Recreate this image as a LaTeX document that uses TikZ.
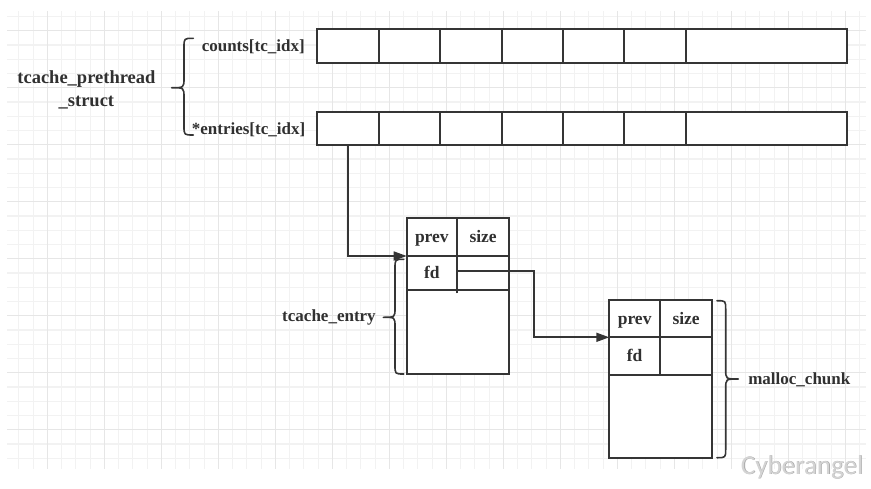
\documentclass[tikz,border=0pt]{standalone}
\usepackage{fontspec}
\setmainfont{Liberation Serif}
\newfontfamily\markfont{Carlito}
\usetikzlibrary{arrows.meta,calc}

\definecolor{ink}{HTML}{353535}
\definecolor{txt}{HTML}{303030}
\definecolor{gridminor}{HTML}{F2F2F2}
\definecolor{gridmajor}{HTML}{E6E6E6}
\definecolor{markfill}{HTML}{D4D4D4}
\definecolor{markedge}{HTML}{A0A0A0}

\begin{document}
\begin{tikzpicture}[x=1pt,y=-1pt,
  cell/.style={draw=ink,fill=white,line width=2pt,inner sep=0pt,outer sep=0pt,
    font=\fontsize{17.5}{20}\selectfont\bfseries,text=txt,
    text height=11.5pt,text depth=0pt},
  lbl/.style={inner sep=0pt,outer sep=0pt,text=txt,
    font=\fontsize{17}{20}\selectfont\bfseries,text height=11.2pt,text depth=0pt},
  conn/.style={draw=ink,line width=1.7pt,-{Triangle[length=13pt,width=9pt]}},
  curly/.style={draw=ink,line width=1.6pt,line cap=round,line join=round},
  minorline/.style={draw=gridminor,line width=1.1pt},
  majorline/.style={draw=gridmajor,line width=1.4pt}]

\useasboundingbox[fill=white] (0,0) rectangle (871,488);

% background grid
\foreach \k in {-2,...,57}{\draw[minorline] ({47.3+14.25*\k},11) -- ({47.3+14.25*\k},469);}
\foreach \k in {-1,...,30}{\draw[minorline] (7,{30.7+14.25*\k}) -- (866,{30.7+14.25*\k});}
\foreach \k in {0,4,...,56}{\draw[majorline] ({47.3+14.25*\k},11) -- ({47.3+14.25*\k},469);}
\foreach \k in {0,4,...,28}{\draw[majorline] (7,{30.7+14.25*\k}) -- (866,{30.7+14.25*\k});}

% counts[] and entries[] arrays
\foreach \i/\a/\b in {1/316.7/379,2/379/440.3,3/440.3/501.5,4/501.5/562.8,
                      5/562.8/624.2,6/624.2/685.7,7/685.7/846.7}{
  \node[cell,minimum width={\b-\a},minimum height=33.4] (c\i) at ({(\a+\b)/2},46) {};
  \node[cell,minimum width={\b-\a},minimum height=33.6] (n\i) at ({(\a+\b)/2},128.5) {};
}

\node[lbl,anchor=east] (cntlbl) at ([xshift=-12pt]c1.west) {counts[tc\_idx]};
\node[lbl,anchor=east] (entlbl) at ([xshift=-11.5pt]n1.west) {*entries[tc\_idx]};
\node[inner sep=0pt,text=txt,font=\fontsize{18.5}{22.7}\selectfont\bfseries,
      align=center,anchor=base] (tps) at (86.4,106) {tcache\_prethread\\\_struct};

% tcache_entry
\node[cell,minimum width=50.3,minimum height=37.7] (eprev) at (431.85,237.15) {prev};
\node[cell,minimum width=52.3,minimum height=37.7] (esize) at (483.15,237.15) {size};
\node[cell,minimum width=50.3,minimum height=34.3] (efd)   at (431.85,273.15) {fd};
\node[cell,minimum width=52.3,minimum height=34.3] (efdr)  at (483.15,273.15) {};
\node[cell,minimum width=102.6,minimum height=83.7] (ebody) at (458,332.15) {};

% malloc_chunk
\node[cell,minimum width=50.7,minimum height=37.3] (mprev) at (634.65,318.65) {prev};
\node[cell,minimum width=52.3,minimum height=37.3] (msize) at (686.15,318.65) {size};
\node[cell,minimum width=50.7,minimum height=37.7] (mfd)   at (634.65,356.15) {fd};
\node[cell,minimum width=52.3,minimum height=37.7] (mfdr)  at (686.15,356.15) {};
\node[cell,minimum width=103,minimum height=82.7] (mbody) at (660.8,416.35) {};

\node[lbl,anchor=base east] (telbl) at (375.7,321) {tcache\_entry};
\node[lbl,anchor=base west] (mclbl) at (748.3,384.3) {malloc\_chunk};

% pointers
\draw[conn] (n1.south) |- (eprev.south west);
\coordinate (fdsrc) at ([yshift=-3pt]efd.south east);
\coordinate (fdbend) at (534,270.7);
\draw[conn] (fdsrc) |- (fdbend) |- (mprev.south west);

% braces
\draw[curly] (193.3,38.3) .. controls (184,38.3) .. (184,47.3) -- (184,78)
  .. controls (184,87.7) .. (171.7,87.7) .. controls (184,87.7) .. (184,97.4)
  -- (184,126) .. controls (184,135) .. (193.3,135);
\draw[curly] (403.8,259.3) .. controls (395,259.3) .. (395,268.3) -- (395,308)
  .. controls (395,317.3) .. (383.3,317.3) .. controls (395,317.3) .. (395,326.6)
  -- (395,365) .. controls (395,374) .. (403.8,374);
\draw[curly] (717,300.7) .. controls (725.7,300.7) .. (725.7,309.7) -- (725.7,369.5)
  .. controls (725.7,379) .. (738.3,379) .. controls (725.7,379) .. (725.7,388.5)
  -- (725.7,448.7) .. controls (725.7,457.7) .. (717,457.7);

% watermark
\node[inner sep=0pt,anchor=base west,text=markedge,font=\markfont\fontsize{27}{30}\selectfont]
  (wmshadow) at (741.3,474.6) {Cyberangel};
\node[inner sep=0pt,anchor=base west,text=markfill,font=\markfont\fontsize{27}{30}\selectfont]
  (wm) at (740.7,474) {Cyberangel};
\end{tikzpicture}
\end{document}
